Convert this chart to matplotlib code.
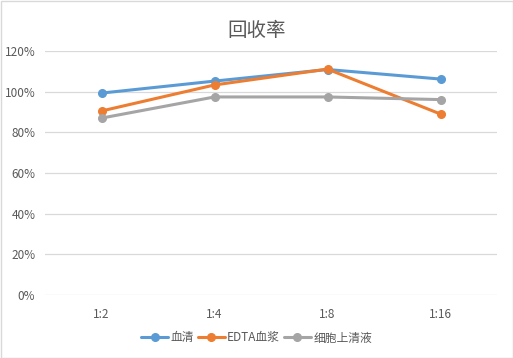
import matplotlib.pyplot as plt
from matplotlib.patches import Rectangle

plt.rcParams['font.family'] = ['Noto Sans CJK SC', 'DejaVu Sans']

categories = ['1:2', '1:4', '1:8', '1:16']
serum = [99.3, 105.2, 110.9, 106.2]
edta_plasma = [90.5, 103.3, 111.1, 89.0]
cell_supernatant = [87.0, 97.4, 97.4, 96.1]
series_names = ['血清', 'EDTA血浆', '细胞上清液']
yticks = [0, 20, 40, 60, 80, 100, 120]

W, H = 513, 358
fig = plt.figure(figsize=(W / 100, H / 100), dpi=100)
ax = fig.add_axes([45 / W, 1 - 295 / H, 452 / W, 244 / H])

colors = ['#5B9BD5', '#ED7D31', '#A5A5A5']
x = range(len(categories))
for vals, name, c in zip([serum, edta_plasma, cell_supernatant], series_names, colors):
    ax.plot(x, vals, color=c, lw=2.2, marker='o', ms=5.5, label=name,
            solid_capstyle='round', zorder=3)

ax.set_xlim(-0.5, len(categories) - 0.5)
ax.set_ylim(0, 120)
ax.set_yticks(yticks)
ax.set_yticklabels([f'{v}%' for v in yticks])
ax.set_xticks(list(x))
ax.set_xticklabels(categories)
ax.grid(axis='y', color='#D9D9D9', lw=0.9)
ax.set_axisbelow(True)
for s in ax.spines.values():
    s.set_visible(False)
ax.tick_params(length=0, labelsize=8.5, colors='#595959', pad=7)
ax.tick_params(axis='x', pad=9)

fig.text(0.5, 1 - 30 / H, '回收率', ha='center', va='center', fontsize=14, color='#595959')

leg = fig.legend(loc='center', bbox_to_anchor=(0.5, 1 - 338 / H), ncol=3, frameon=False,
                 fontsize=8.5, handlelength=2.3, columnspacing=0.3, handletextpad=0.2)
for t in leg.get_texts():
    t.set_color('#595959')

fig.patches.append(Rectangle((0.5 / W, 0.5 / H), 1 - 1 / W, 1 - 1 / H, transform=fig.transFigure,
                             fill=False, edgecolor='#D9D9D9', lw=1))
fig.savefig('out.png', dpi=100)
